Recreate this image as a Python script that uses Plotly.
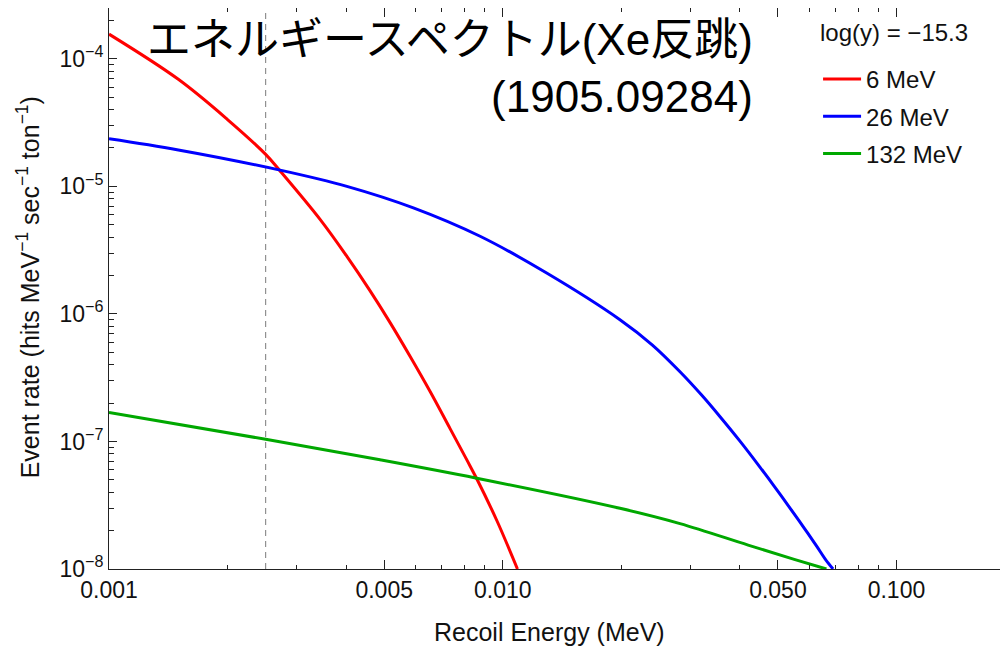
import numpy as np
import plotly.graph_objects as go

# ---- data ----
energy_6 = [0.001, 0.0015, 0.002, 0.0025, 0.00272, 0.00344, 0.00402, 0.0046, 0.00518,
            0.00582, 0.00654, 0.00735, 0.0081, 0.00859, 0.00966, 0.0109]
rate_6 = [1.56e-4, 6.9e-5, 3.34e-5, 1.78e-5, 1.32e-5, 5.48e-6, 2.82e-6, 1.52e-6, 8.5e-7,
          4.63e-7, 2.46e-7, 1.26e-7, 7.2e-8, 5.1e-8, 2.4e-8, 1.0e-8]

energy_26 = [0.001, 0.0015, 0.00272, 0.00402, 0.00593, 0.00876, 0.01293, 0.01985,
             0.024, 0.0282, 0.032, 0.0356, 0.040, 0.045, 0.049, 0.0536, 0.058,
             0.0627, 0.066, 0.069]
rate_26 = [2.36e-5, 1.93e-5, 1.34e-5, 1.0e-5, 6.78e-6, 4.06e-6, 2.09e-6, 9.0e-7,
           5.7e-7, 3.52e-7, 2.31e-7, 1.57e-7, 1.01e-7, 6.3e-8, 4.43e-8, 3.02e-8, 2.14e-8,
           1.51e-8, 1.19e-8, 1.0e-8]

energy_132 = [0.001, 0.0025, 0.00488, 0.00859, 0.01985, 0.0282, 0.042, 0.055, 0.0664]
rate_132 = [1.69e-7, 1.04e-7, 7.18e-8, 5.15e-8, 2.99e-8, 2.27e-8, 1.54e-8, 1.19e-8, 1.0e-8]

threshold_energy = 0.0025
series_names = ["6 MeV", "26 MeV", "132 MeV"]
legend_title = "log(y) = \u221215.3"
title_text = "エネルギースペクトル(Xe反跳)<br>(1905.09284)"
x_title = "Recoil Energy (MeV)"
y_title = "Event rate (hits MeV<sup>\u22121</sup> sec<sup>\u22121</sup> ton<sup>\u22121</sup>)"

x_tick_vals = [0.001, 0.005, 0.01, 0.05, 0.1]
x_tick_text = ["0.001", "0.005", "0.010", "0.050", "0.100"]
y_tick_vals = [1e-8, 1e-7, 1e-6, 1e-5, 1e-4]
y_tick_text = ["10<sup>\u22128</sup>", "10<sup>\u22127</sup>", "10<sup>\u22126</sup>",
               "10<sup>\u22125</sup>", "10<sup>\u22124</sup>"]

x_min, x_max = 0.001, 0.192
y_min, y_max = 1e-8, 2.5e-4

# ---- figure ----
fig = go.Figure()

fig.add_trace(go.Scatter(x=[threshold_energy, threshold_energy], y=[y_min, y_max],
                         mode="lines", line=dict(color="#7a7a7a", width=1, dash="6px,5px"),
                         showlegend=False, hoverinfo="skip"))

colors = ["#ff0000", "#0000ff", "#00a800"]
data = [(energy_6, rate_6), (energy_26, rate_26), (energy_132, rate_132)]
for (xs, ys), name, c in zip(data, series_names, colors):
    fig.add_trace(go.Scatter(x=xs, y=ys, mode="lines", name=name,
                             legendgroup=name,
                             line=dict(color=c, width=3, shape="spline", smoothing=1.0)))

minor_x = [m * d for d in (0.001, 0.01, 0.1) for m in range(2, 10) if m * d < x_max]
minor_y = [m * d for d in (1e-8, 1e-7, 1e-6, 1e-5, 1e-4) for m in range(2, 10) if m * d < y_max]

SANS = "Liberation Sans, Arial, Helvetica, sans-serif"
fig.update_xaxes(type="log", range=[np.log10(x_min), np.log10(x_max)],
                 tickmode="array", tickvals=x_tick_vals, ticktext=x_tick_text,
                 ticks="inside", ticklen=9, tickcolor="#222", tickwidth=1,
                 showline=True, linecolor="#222", linewidth=1, mirror="ticks",
                 showgrid=False, zeroline=False,
                 tickfont=dict(family=SANS, size=23, color="#111"),
                 minor=dict(tickmode="array", tickvals=minor_x, ticks="inside",
                            ticklen=4, tickcolor="#222", showgrid=False))
fig.update_yaxes(type="log", range=[np.log10(y_min), np.log10(y_max)],
                 tickmode="array", tickvals=y_tick_vals, ticktext=y_tick_text,
                 ticks="inside", ticklen=8, tickcolor="#222", tickwidth=1,
                 showline=True, linecolor="#222", linewidth=1, mirror="ticks",
                 showgrid=False, zeroline=False,
                 tickfont=dict(family=SANS, size=23, color="#111"),
                 minor=dict(tickmode="array", tickvals=minor_y, ticks="inside",
                            ticklen=5, tickcolor="#222", showgrid=False))

# the page body adds an 8px offset; figure coords = page coords - 8
OFF = 8
W, H = 1000, 638
L, R, T, B = 100.7, 0, 0, 77
pw, ph = W - L - R, H - T - B


def px(page_x):
    return (page_x - OFF - L) / pw


def py(page_y):
    return (H - B - (page_y - OFF)) / ph


fig.update_layout(
    width=W, height=H, autosize=False,
    margin=dict(l=L, r=R, t=T, b=B, pad=0),
    paper_bgcolor="white", plot_bgcolor="white",
    legend=dict(x=px(818), y=py(57), xanchor="left", yanchor="top",
                bgcolor="rgba(0,0,0,0)", traceorder="grouped", tracegroupgap=3,
                font=dict(family=SANS, size=24, color="#111"),
                itemwidth=38),
    annotations=[
        dict(text=legend_title, xref="paper", yref="paper", x=px(818), y=py(33),
             xanchor="left", yanchor="middle", showarrow=False,
             font=dict(family=SANS, size=24, color="#111")),
        dict(text=x_title, xref="paper", yref="paper", x=px(549), y=py(632),
             xanchor="center", yanchor="middle", showarrow=False,
             font=dict(family=SANS, size=25, color="#111")),
        dict(text=y_title, xref="paper", yref="paper", x=px(28), y=py(287), textangle=-90,
             xanchor="center", yanchor="middle", showarrow=False,
             font=dict(family=SANS, size=25, color="#111")),
        dict(text=title_text, xref="paper", yref="paper",
             x=px(755), y=py(68), xanchor="right", yanchor="middle", align="right",
             showarrow=False,
             font=dict(family="Liberation Sans, Noto Sans CJK JP, sans-serif", size=44,
                       color="black")),
    ],
)

fig.write_html("out.html")
